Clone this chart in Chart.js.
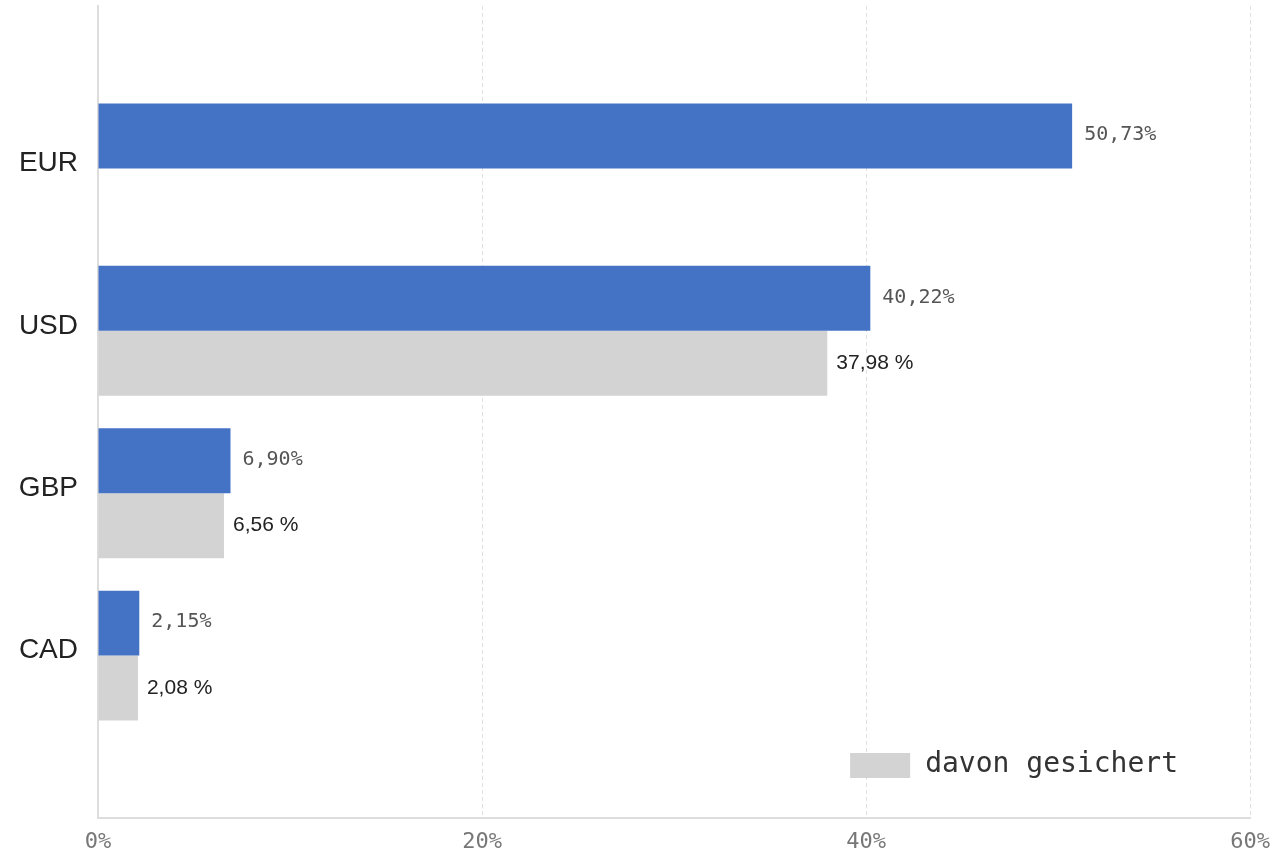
<!DOCTYPE html>
<html lang="de">
<head>
<meta charset="utf-8">
<title>Währungen</title>
<script src="https://cdn.jsdelivr.net/npm/chart.js@4/dist/chart.umd.min.js"></script>
<style>
  html, body { margin: 0; padding: 0; background: #fff; }
  #wrap { width: 1281px; height: 856px; position: relative; }
</style>
</head>
<body>
<div id="wrap"><canvas id="chart"></canvas></div>
<script>
// Daten
const waehrungen = ['EUR', 'USD', 'GBP', 'CAD'];
const anteilGesamt = [50.73, 40.22, 6.90, 2.15];
const anteilGesichert = [null, 37.98, 6.56, 2.08];
const xTicks = [0, 20, 40, 60];

const BLAU = '#4472C4';
const GRAU = '#D3D3D3';
const MONO = '"DejaVu Sans Mono", "Liberation Mono", monospace';
const SANS = '"Liberation Sans", Arial, sans-serif';

// leere Kategorie oben und unten (Platz für die Legende)
const labels = [''].concat(waehrungen, ['']);
const pad = arr => [null].concat(arr, [null]);

function deZahl(v) {
    return v.toFixed(2).replace('.', ',');
}

// Beschriftung der Balken
const wertLabels = {
    id: 'wertLabels',
    afterDatasetsDraw(chart) {
        const ctx = chart.ctx;
        ctx.save();
        ctx.textBaseline = 'middle';
        ctx.textAlign = 'left';
        chart.data.datasets.forEach((ds, i) => {
            const meta = chart.getDatasetMeta(i);
            meta.data.forEach((bar, j) => {
                const v = ds.data[j];
                if (v === null || v === undefined) return;
                if (i === 0) {
                    ctx.font = '20px ' + MONO;
                    ctx.fillStyle = '#555';
                    ctx.fillText(deZahl(v) + '%', bar.x + 12, bar.y - 1);
                } else {
                    ctx.font = '21px ' + SANS;
                    ctx.fillStyle = '#222';
                    ctx.fillText(deZahl(v) + ' %', bar.x + 9, bar.y);
                }
            });
        });
        ctx.restore();
    }
};

// Legende unten rechts im Diagrammbereich
const legende = {
    id: 'legende',
    afterDraw(chart) {
        const ctx = chart.ctx;
        const a = chart.chartArea;
        const ds = chart.data.datasets[1];
        const x = a.right - 400;
        const y = a.bottom - 65;
        ctx.save();
        ctx.fillStyle = ds.backgroundColor;
        ctx.fillRect(x, y, 60, 25);
        ctx.font = '28px ' + MONO;
        ctx.fillStyle = '#333';
        ctx.textBaseline = 'middle';
        ctx.fillText(ds.label, x + 75, y + 12);
        ctx.restore();
    }
};

const ctx = document.getElementById('chart').getContext('2d');

new Chart(ctx, {
    type: 'bar',
    data: {
        labels: labels,
        datasets: [{
            label: 'Anteil',
            data: pad(anteilGesamt),
            backgroundColor: BLAU,
            categoryPercentage: 0.8,
            barPercentage: 1.0
        }, {
            label: 'davon gesichert',
            data: pad(anteilGesichert),
            backgroundColor: GRAU,
            categoryPercentage: 0.8,
            barPercentage: 1.0
        }]
    },
    options: {
        indexAxis: 'y',
        responsive: true,
        maintainAspectRatio: false,
        animation: false,
        layout: {
            padding: { top: 6, right: 29, left: 0, bottom: 0 }
        },
        plugins: {
            legend: { display: false },
            tooltip: { enabled: false }
        },
        scales: {
            x: {
                min: 0,
                max: 60,
                afterBuildTicks: scale => {
                    scale.ticks = xTicks.map(v => ({ value: v }));
                },
                afterFit: scale => { scale.height = 38; },
                ticks: {
                    callback: v => v + '%',
                    color: '#777',
                    font: { family: MONO, size: 22 },
                    padding: 11,
                    maxRotation: 0
                },
                grid: {
                    drawTicks: false,
                    color: c => c.index === 0 ? 'rgba(0,0,0,0)' : '#e0e0e0',
                    lineWidth: 1
                },
                border: {
                    display: true,
                    color: '#dddddd',
                    width: 2,
                    dash: [4, 3]
                }
            },
            y: {
                offset: false,
                afterFit: scale => {
                    scale.width = 98;
                    scale.paddingTop = 0;
                    scale.paddingBottom = 0;
                },
                ticks: {
                    color: '#222',
                    font: { family: SANS, size: 28 },
                    padding: 20,
                    labelOffset: -5
                },
                grid: { display: false, drawTicks: false },
                border: {
                    display: true,
                    color: '#dddddd',
                    width: 2
                }
            }
        }
    },
    plugins: [wertLabels, legende]
});
</script>
</body>
</html>
